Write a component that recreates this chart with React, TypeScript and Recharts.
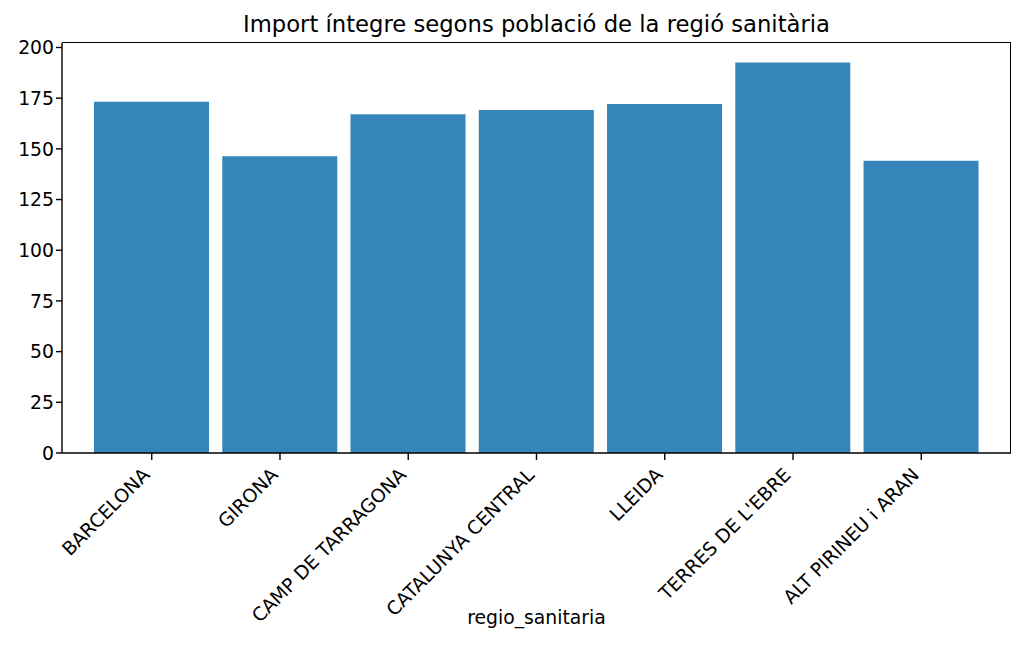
import React from 'react';
import { BarChart, Bar, XAxis, YAxis, Label } from 'recharts';

const regions = [
  'BARCELONA',
  'GIRONA',
  'CAMP DE TARRAGONA',
  'CATALUNYA CENTRAL',
  'LLEIDA',
  "TERRES DE L'EBRE",
  'ALT PIRINEU i ARAN',
];
const imports = [173.2, 146.3, 167.0, 169.2, 172.1, 192.6, 144.1];
const yTicks = [0, 25, 50, 75, 100, 125, 150, 175, 200];

const data = regions.map((name, i) => ({ name, value: imports[i] }));

const FONT = '"DejaVu Sans", sans-serif';
const FS = 18.8;

function RotatedTick(props: any) {
  const { x, y, payload } = props;
  return (
    <g transform={`translate(${x - 1},${y + 14})`}>
      <text
        transform="rotate(-45)"
        textAnchor="end"
        fontFamily={FONT}
        fontSize={FS}
        fill="#000"
      >
        {payload.value}
      </text>
    </g>
  );
}

export default function App() {
  return (
    <div style={{ position: 'absolute', left: 0, top: 0, width: 1024, height: 669, background: '#fff' }}>
      <div
        style={{
          position: 'absolute',
          left: 62,
          width: 949,
          top: 11,
          textAlign: 'center',
          fontFamily: FONT,
          fontSize: 22.7,
          color: '#000',
          whiteSpace: 'nowrap',
        }}
      >
        Import íntegre segons població de la regió sanitària
      </div>
      <BarChart
        width={1024}
        height={669}
        data={data}
        margin={{ top: 43, right: 13, left: 0, bottom: 0 }}
        barCategoryGap="5%"
      >
        <XAxis
          dataKey="name"
          interval={0}
          height={216}
          padding={{ left: 25.6, right: 25.6 }}
          tick={<RotatedTick />}
          tickSize={7}
          axisLine={{ stroke: '#000', strokeWidth: 1.4 }}
          tickLine={{ stroke: '#000', strokeWidth: 1.4 }}
        >
          <Label
            value="regio_sanitaria"
            position="insideBottom"
            offset={45}
            style={{ fontFamily: FONT, fontSize: FS, fill: '#000' }}
          />
        </XAxis>
        <YAxis
          width={62}
          domain={[0, 202.2]}
          ticks={yTicks}
          interval={0}
          tickSize={6}
          tick={{ fontFamily: FONT, fontSize: FS, fill: '#000' }}
          axisLine={{ stroke: '#000', strokeWidth: 1.4 }}
          tickLine={{ stroke: '#000', strokeWidth: 1.4 }}
        />
        <Bar dataKey="value" fill="#3585bb" isAnimationActive={false} />
      </BarChart>
      {/* top and right spines */}
      <div
        style={{
          position: 'absolute',
          left: 62,
          top: 42.3,
          width: 948,
          height: 410,
          borderTop: '1.4px solid #000',
          borderRight: '1.4px solid #000',
          pointerEvents: 'none',
        }}
      />
    </div>
  );
}
